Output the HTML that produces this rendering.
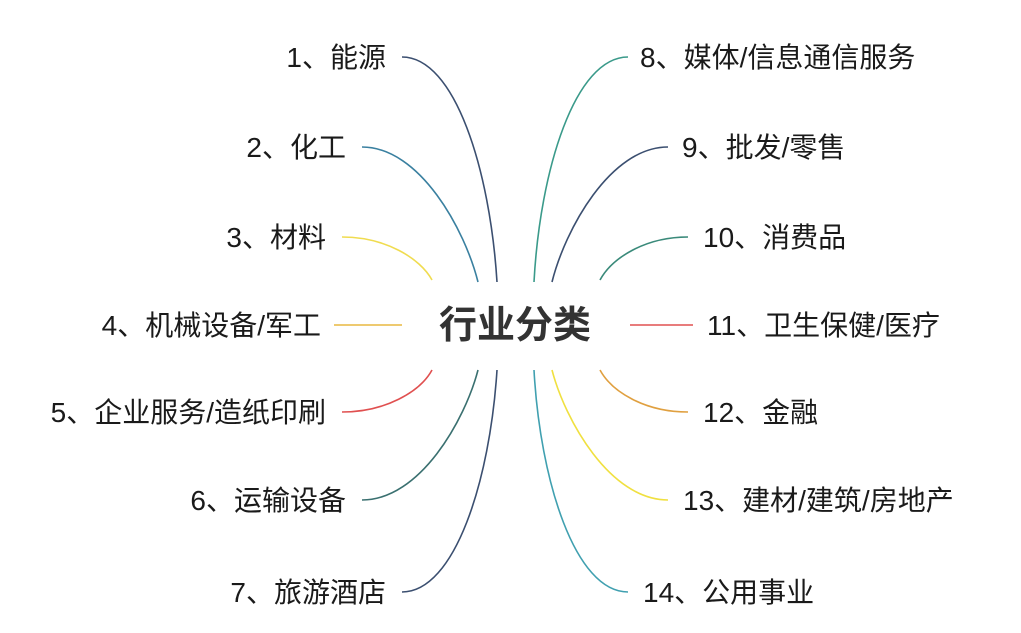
<!DOCTYPE html>
<html><head><meta charset="utf-8"><style>
html,body{margin:0;padding:0;background:#fff;}
svg{display:block;}
text{font-family:"Liberation Sans","Noto Sans CJK SC",sans-serif;font-size:28px;fill:#1a1a1a;}
</style></head><body>
<svg width="1021" height="633" viewBox="0 0 1021 633" xmlns="http://www.w3.org/2000/svg">
<g fill="none" stroke-width="1.6">
<path d="M402,57 C455,57 490,170 497,282" stroke="#3b4f70"/>
<path d="M362,147 C420,147 465,230 478,282" stroke="#3a80a0"/>
<path d="M342,237 C385,237 420,258 432,280" stroke="#f0dc50"/>
<path d="M334,325 L402,325" stroke="#e8b840"/>
<path d="M342,412 C385,412 420,392 432,370" stroke="#e05050"/>
<path d="M362,500 C420,500 465,420 478,370" stroke="#3a7070"/>
<path d="M402,592 C455,592 490,480 497,370" stroke="#3b4f70"/>
<path d="M628,57 C575,57 540,170 534,282" stroke="#3a9a8a"/>
<path d="M668,147 C610,147 565,230 552,282" stroke="#3b4f70"/>
<path d="M688,237 C645,237 612,258 600,280" stroke="#3a8a7a"/>
<path d="M630,325 L693,325" stroke="#e05050"/>
<path d="M688,412 C645,412 612,392 600,370" stroke="#e0a040"/>
<path d="M668,500 C610,500 565,420 552,370" stroke="#f0e040"/>
<path d="M628,592 C575,592 540,480 534,370" stroke="#40a0b0"/>
</g>
<text x="515" y="338" text-anchor="middle" style="font-size:38px;font-weight:bold;fill:#333">行业分类</text>
<g text-anchor="end">
<text x="386" y="67">1、能源</text>
<text x="346" y="157">2、化工</text>
<text x="326" y="247">3、材料</text>
<text x="321" y="335">4、机械设备/军工</text>
<text x="326" y="422">5、企业服务/造纸印刷</text>
<text x="346" y="510">6、运输设备</text>
<text x="386" y="602">7、旅游酒店</text>
</g>
<g text-anchor="start">
<text x="640" y="67">8、媒体/信息通信服务</text>
<text x="682" y="157">9、批发/零售</text>
<text x="703" y="247">10、消费品</text>
<text x="707" y="335">11、卫生保健/医疗</text>
<text x="703" y="422">12、金融</text>
<text x="683" y="510">13、建材/建筑/房地产</text>
<text x="643" y="602">14、公用事业</text>
</g>
</svg>
</body></html>
